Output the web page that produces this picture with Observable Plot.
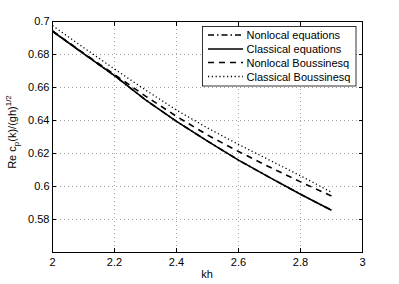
<!DOCTYPE html>
<html><head><meta charset="utf-8">
<script src="https://cdn.jsdelivr.net/npm/d3@7"></script>
<script src="https://cdn.jsdelivr.net/npm/@observablehq/plot@0.6"></script>
<style>body{margin:0;background:#fff;} svg{display:block;}</style>
</head><body><div id="chart"></div>
<script>
const kh = [2.0, 2.1, 2.2, 2.3, 2.4, 2.5, 2.6, 2.7, 2.8, 2.9];
const nonlocalEquations = [0.6941, 0.6805, 0.6672, 0.6525, 0.6395, 0.6275, 0.6160, 0.6055, 0.5953, 0.5856];
const classicalEquations = [0.6941, 0.6805, 0.6672, 0.6525, 0.6395, 0.6275, 0.6160, 0.6055, 0.5953, 0.5856];
const nonlocalBoussinesq = [0.6943, 0.6808, 0.6678, 0.6548, 0.6425, 0.6312, 0.6212, 0.6118, 0.6028, 0.5942];
const classicalBoussinesq = [0.6975, 0.6842, 0.6712, 0.6585, 0.6463, 0.6355, 0.6255, 0.6160, 0.6065, 0.5965];
const xTicks = [2, 2.2, 2.4, 2.6, 2.8, 3];
const yTicks = [0.58, 0.6, 0.62, 0.64, 0.66, 0.68, 0.7];
const seriesNames = ["Nonlocal equations", "Classical equations", "Nonlocal Boussinesq", "Classical Boussinesq"];
const seriesValues = [nonlocalEquations, classicalEquations, nonlocalBoussinesq, classicalBoussinesq];
const dashes = ["6,3,1.5,3", null, "6,5", "1.2,2.6"];
const widths = [1.6, 1.6, 1.6, 1.3];

const font = "'Liberation Sans', Arial, Helvetica, sans-serif";
const fmt = d => String(+d.toFixed(2));
const lineMarks = seriesNames.map((name, i) => Plot.line(kh.map((x, j) => ({x, y: seriesValues[i][j]})), {
  x: "x", y: "y", stroke: "black", strokeWidth: widths[i],
  strokeDasharray: dashes[i] || undefined, strokeLinecap: "butt"
}));

const chart = Plot.plot({
  width: 399, height: 284,
  marginLeft: 52, marginRight: 37, marginTop: 21, marginBottom: 32,
  style: {fontFamily: font, fontSize: "11px", background: "white", color: "black"},
  x: {domain: [2, 3], ticks: xTicks},
  y: {domain: [0.56, 0.7], ticks: yTicks},
  marks: [
    Plot.gridX(xTicks.slice(1, -1), {stroke: "#888", strokeOpacity: 1, strokeDasharray: "1,3", strokeWidth: 0.8}),
    Plot.gridY(yTicks.slice(0, -1), {stroke: "#888", strokeOpacity: 1, strokeDasharray: "1,3", strokeWidth: 0.8}),
    ...lineMarks,
    Plot.axisX(xTicks, {anchor: "bottom", tickSize: -4, tickPadding: 10, label: null, fontSize: 11, tickFormat: fmt}),
    Plot.axisX(xTicks, {anchor: "top", tickSize: -4, tickFormat: () => "", label: null}),
    Plot.axisY(yTicks, {anchor: "left", tickSize: -4, tickPadding: 7, label: null, fontSize: 11, tickFormat: fmt}),
    Plot.axisY(yTicks, {anchor: "right", tickSize: -4, tickFormat: () => "", label: null}),
    Plot.frame({stroke: "black", strokeWidth: 1})
  ]
});

const svg = d3.select(chart);
// x label
svg.append("text").attr("x", 207).attr("y", 278).attr("text-anchor", "middle")
  .attr("font-family", font).attr("font-size", 11).text("kh");
// y label
const yl = svg.append("text").attr("transform", "translate(16,132) rotate(-90)")
  .attr("text-anchor", "middle").attr("font-family", font).attr("font-size", 11);
yl.append("tspan").text("Re c");
yl.append("tspan").attr("dy", 3).attr("font-size", 8).text("p");
yl.append("tspan").attr("dy", -3).text("(k)/(gh)");
yl.append("tspan").attr("dy", -5).attr("font-size", 8).text("1/2");

// legend
const lg = svg.append("g").attr("text-anchor", "start");
lg.append("rect").attr("x", 202.5).attr("y", 26.5).attr("width", 153.5).attr("height", 59.5)
  .attr("fill", "white").attr("stroke", "black").attr("stroke-width", 0.8);
const rowY = [35, 49, 62.5, 76.5];
seriesNames.forEach((name, i) => {
  lg.append("line").attr("x1", 208).attr("x2", 243).attr("y1", rowY[i]).attr("y2", rowY[i])
    .attr("stroke", "black").attr("stroke-width", widths[i])
    .attr("stroke-dasharray", dashes[i]);
  lg.append("text").attr("x", 246.5).attr("y", rowY[i] + 4).attr("text-anchor", "start")
    .attr("font-family", font).attr("font-size", 11).text(name);
});

document.getElementById("chart").appendChild(chart);
</script></body></html>
